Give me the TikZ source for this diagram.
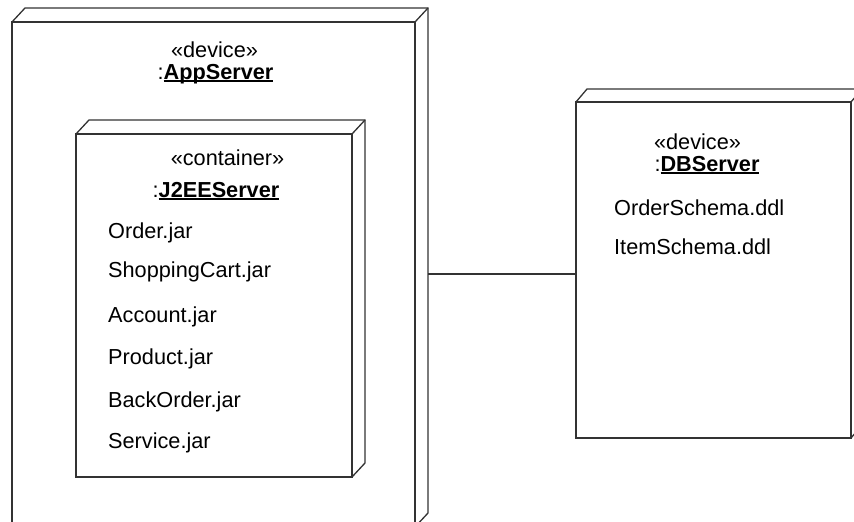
\documentclass[tikz,border=0pt]{standalone}
\usepackage{fontspec}
\setmainfont{Liberation Sans}
\newcommand\nameul[1]{\setbox0\hbox{#1}\rlap{\rule[-2.6pt]{\wd0}{1.3pt}}\box0}
\begin{document}
\begin{tikzpicture}[x=1pt,y=-1pt,
  box/.style={draw=black!80, line width=1.3pt, fill=white, inner sep=0pt, outer sep=0pt, anchor=north west},
  edge/.style={draw=black!80, line width=1.3pt, line join=miter},
  txt/.style={inner sep=0pt, font=\fontsize{21.7}{26}\selectfont}]
\useasboundingbox (0,0) rectangle (854,522);
% AppServer node
\node[box, minimum width=403pt, minimum height=505pt] (app) at (12,22) {};
\draw[edge] (app.north west) -- ++(13,-14) -- ++(403,0) -- ++(0,505) -- (app.south east);
\draw[edge] (app.north east) -- ++(13,-14);
\node[txt, anchor=base] (appst) at (214.5,57) {«device»};
\node[txt, anchor=base] (appnm) at (215.5,79) {:\nameul{\textbf{AppServer}}};
% J2EE container
\node[box, minimum width=276pt, minimum height=343pt] (j2ee) at (76,134) {};
\draw[edge] (j2ee.north west) -- ++(13,-14) -- ++(276,0) -- ++(0,343) -- (j2ee.south east);
\draw[edge] (j2ee.north east) -- ++(13,-14);
\node[txt, anchor=base] (j2st) at (227.5,165) {«container»};
\node[txt, anchor=base] (j2nm) at (216,197) {:\nameul{\textbf{J2EEServer}}};
\node[txt, anchor=base west] (f1) at (108,238) {Order.jar};
\node[txt, anchor=base west] (f2) at (108,277) {ShoppingCart.jar};
\node[txt, anchor=base west] (f3) at (108,322) {Account.jar};
\node[txt, anchor=base west] (f4) at (108,364) {Product.jar};
\node[txt, anchor=base west] (f5) at (108,407) {BackOrder.jar};
\node[txt, anchor=base west] (f6) at (108,448) {Service.jar};
% DBServer node
\node[box, minimum width=275pt, minimum height=336pt] (db) at (576,102) {};
\draw[edge] (db.north west) -- ++(11,-13) -- ++(275,0) -- ++(0,336) -- (db.south east);
\draw[edge] (db.north east) -- ++(11,-13);
\node[txt, anchor=base] (dbst) at (697.5,149) {«device»};
\node[txt, anchor=base] (dbnm) at (707,171) {:\nameul{\textbf{DBServer}}};
\node[txt, anchor=base west] (d1) at (614,215) {OrderSchema.ddl};
\node[txt, anchor=base west] (d2) at (614,254) {ItemSchema.ddl};
% connector
\coordinate (appR) at (428,274);
\draw[edge] (appR) -- (appR -| db.west);
\end{tikzpicture}
\end{document}
